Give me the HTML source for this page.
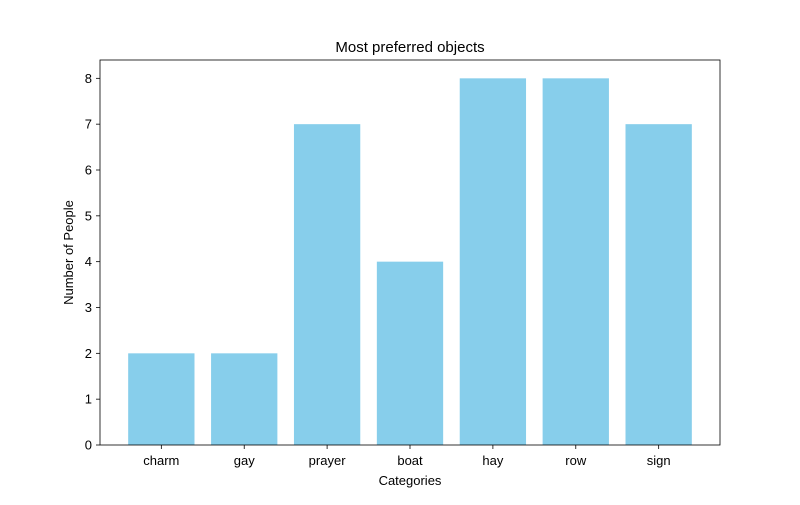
<!DOCTYPE html>
<html><head><meta charset="utf-8"><style>
body{margin:0;background:#fff;}
svg text{font-family:"Liberation Sans","DejaVu Sans",sans-serif;fill:#000;}
</style></head><body>
<svg id="chart" width="800" height="500" xmlns="http://www.w3.org/2000/svg">
<rect x="0" y="0" width="800" height="500" fill="#fff"/>
<text x="410" y="52" font-size="15" text-anchor="middle">Most preferred objects</text>
<text x="410" y="485" font-size="13" text-anchor="middle">Categories</text>
<text x="0" y="0" font-size="13" text-anchor="middle" transform="translate(73,252.5) rotate(-90)">Number of People</text>
<g id="bars"></g>
<g id="axes"></g>
</svg>
<script>
const categories = ["charm","gay","prayer","boat","hay","row","sign"];
const values = [2,2,7,4,8,8,7];
const yTicks = [0,1,2,3,4,5,6,7,8];

const L=100,R=720,T=60,B=445;
const yMax=8.4;
const xMin=-0.74,xMax=6.74;
const xs=i=>L+(i-xMin)/(xMax-xMin)*(R-L);
const ys=v=>B-v/yMax*(B-T);
const NS="http://www.w3.org/2000/svg";
function mk(tag,attrs,parent){const e=document.createElementNS(NS,tag);for(const k in attrs)e.setAttribute(k,attrs[k]);parent.appendChild(e);return e;}
const bars=document.getElementById('bars'),axes=document.getElementById('axes');
const bw=0.8*(R-L)/(xMax-xMin);
values.forEach((v,i)=>{
  const r=mk('rect',{x:xs(i)-bw/2,y:ys(v),width:bw,height:B-ys(v),fill:'#87ceeb'},bars);
  
  
  const t=mk('line',{x1:xs(i),x2:xs(i),y1:B,y2:B+4,stroke:'#000','stroke-width':0.8},axes);
  
  
  const lb=mk('text',{x:xs(i),y:B+20,'font-size':13,'text-anchor':'middle'},axes);
  lb.textContent=categories[i];
  
  
});
yTicks.forEach(v=>{
  const t=mk('line',{x1:L-4,x2:L,y1:ys(v),y2:ys(v),stroke:'#000','stroke-width':0.8},axes);
  
  
  const lb=mk('text',{x:L-8,y:ys(v)+4.5,'font-size':13,'text-anchor':'end'},axes);
  lb.textContent=v;
  
  
});
const frame=mk('rect',{x:L,y:T,width:R-L,height:B-T,fill:'none',stroke:'#000','stroke-width':0.8},axes);


</script>
</body></html>
